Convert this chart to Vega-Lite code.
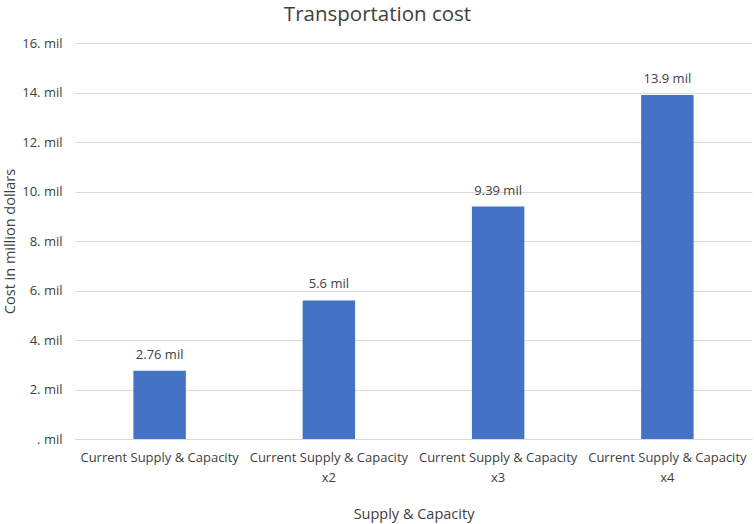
{
  "$schema": "https://vega.github.io/schema/vega-lite/v6.json",
  "width": 677,
  "height": 396,
  "autosize": {"type": "none"},
  "padding": {"left": 75, "top": 43, "right": 2, "bottom": 85},
  "background": "white",
  "config": {
    "font": "Open Sans",
    "view": {"stroke": null},
    "axis": {"labelFont": "Open Sans", "titleFont": "Open Sans"}
  },
  "title": {
    "text": "Transportation cost",
    "fontSize": 20.5,
    "fontWeight": "normal",
    "color": "#404040",
    "anchor": "middle",
    "dx": -36,
    "offset": 12
  },
  "data": {
    "values": [
      {"scenario": "Current Supply & Capacity", "cost": 2.76, "label": "2.76 mil"},
      {"scenario": "Current Supply & Capacity x2", "cost": 5.6, "label": "5.6 mil"},
      {"scenario": "Current Supply & Capacity x3", "cost": 9.39, "label": "9.39 mil"},
      {"scenario": "Current Supply & Capacity x4", "cost": 13.9, "label": "13.9 mil"}
    ]
  },
  "encoding": {
    "x": {
      "field": "scenario",
      "type": "nominal",
      "sort": null,
      "scale": {"paddingInner": 0.69, "paddingOuter": 0.345},
      "axis": {
        "title": "Supply & Capacity",
        "titleFontSize": 14.5,
        "titleFontWeight": "normal",
        "titleColor": "#404040",
        "titlePadding": 23,
        "labelAngle": 0,
        "labelFontSize": 13,
        "labelColor": "#404040",
        "labelPadding": 12,
        "labelLimit": 200,
        "labelLineHeight": 20,
        "labelExpr": "length(datum.label) > 25 ? [substring(datum.label, 0, 25), substring(datum.label, 26)] : datum.label",
        "ticks": false,
        "domainColor": "#d9d9d9",
        "domainWidth": 1
      }
    },
    "y": {
      "field": "cost",
      "type": "quantitative",
      "scale": {"domain": [0, 16], "nice": false},
      "axis": {
        "title": "Cost in million dollars",
        "titleFontSize": 14.5,
        "titleFontWeight": "normal",
        "titleColor": "#404040",
        "titlePadding": 4,
        "values": [0, 2, 4, 6, 8, 10, 12, 14, 16],
        "labelExpr": "datum.value == 0 ? '. mil' : datum.value + '. mil'",
        "labelFontSize": 13,
        "labelColor": "#404040",
        "labelPadding": 13,
        "ticks": false,
        "domain": false,
        "gridColor": "#d9d9d9",
        "gridWidth": 1
      }
    }
  },
  "layer": [
    {"mark": {"type": "bar", "color": "#4472C4"}},
    {
      "mark": {"type": "text", "baseline": "bottom", "dy": -9, "fontSize": 13, "color": "#404040"},
      "encoding": {"text": {"field": "label"}}
    }
  ]
}
